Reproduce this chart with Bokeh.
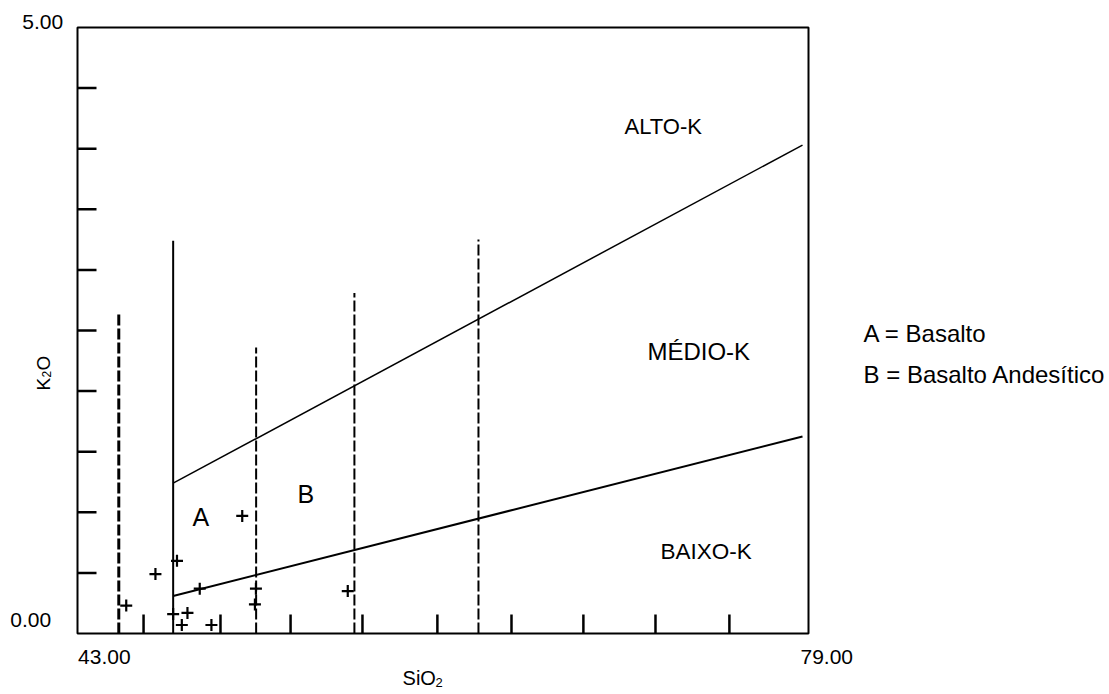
import math
from bokeh.plotting import figure
from bokeh.models import Range1d, Label
from bokeh.embed import file_html
from bokeh.resources import INLINE

# ---------------- data ----------------
sio2 = [45.42, 46.87, 47.75, 47.94, 48.18, 48.46, 49.07, 49.65, 51.18, 51.86, 51.81, 56.42]
k2o = [0.23, 0.49, 0.16, 0.60, 0.07, 0.17, 0.37, 0.07, 0.97, 0.37, 0.24, 0.35]

# boundary lines between the K series
low_med_x = [47.75, 79.0]
low_med_y = [0.31, 1.625]
med_high_x = [47.75, 79.0]
med_high_y = [1.24, 4.03]

# vertical SiO2 divisions
heavy_div_x = [45.05]
heavy_div_top = [2.64]
solid_div_x = [47.75]
solid_div_top = [3.24]
dash_div_x = [51.87, 56.75, 62.91]
dash_div_top = [2.36, 2.81, 3.25]

# axes: extent, ticks and tick labels
x_min, x_max = 43.0, 79.0
y_min, y_max = 0.0, 5.0
x_ticks = [46.28, 50.10, 53.58, 57.15, 60.87, 64.55, 68.12, 71.70, 75.37]
y_ticks = [0.5, 1.0, 1.5, 2.0, 2.5, 3.0, 3.5, 4.0, 4.5]
x_tick_labels = ["43.00", "79.00"]
y_tick_labels = ["0.00", "5.00"]

region_names = ["ALTO-K", "MÉDIO-K", "BAIXO-K"]
field_names = ["A", "B"]
legend_lines = ["A = Basalto", "B = Basalto Andesítico"]

FONT = "Liberation Sans"
W, H = 1109, 694

# scale: x 43 -> px 77, 79 -> px 802 ; y 0 -> px 633, 5 -> px 27
sx = (802 - 77) / (x_max - x_min)
sy = (633 - 27) / (y_max - y_min)
xr = Range1d(x_min - 77 / sx, x_min + (W - 77) / sx)
yr = Range1d(y_min - (H - 633) / sy, y_max + 27 / sy)

p = figure(width=W, height=H, output_backend="svg", toolbar_location=None,
           x_range=xr, y_range=yr, min_border=0,
           background_fill_color="white", border_fill_color="white")
p.grid.visible = False
p.axis.visible = False
p.outline_line_color = None

# plot box (right edge slightly beyond x_max, as in the original)
box_right = x_min + (808 - 77) / sx
p.quad(left=[x_min], right=[box_right], bottom=[y_min], top=[y_max],
       fill_color=None, line_color="black", line_width=2)

# inward ticks
tick_len_x = 19 / sx
tick_len_y = 19 / sy
p.segment(x0=[x_min] * len(y_ticks), y0=y_ticks, x1=[x_min + tick_len_x] * len(y_ticks), y1=y_ticks,
          line_color="black", line_width=2.5)
p.segment(x0=x_ticks, y0=[y_min] * len(x_ticks), x1=x_ticks, y1=[y_min + tick_len_y] * len(x_ticks),
          line_color="black", line_width=2.5)

# vertical divisions
p.segment(x0=heavy_div_x, y0=[y_min] * len(heavy_div_x), x1=heavy_div_x, y1=heavy_div_top,
          line_color="black", line_width=3, line_dash="11 3")
p.segment(x0=solid_div_x, y0=[y_min] * len(solid_div_x), x1=solid_div_x, y1=solid_div_top,
          line_color="black", line_width=2)
p.segment(x0=dash_div_x, y0=[y_min] * len(dash_div_x), x1=dash_div_x, y1=dash_div_top,
          line_color="black", line_width=2, line_dash="11 3")

# series boundaries
p.line(med_high_x, med_high_y, line_color="black", line_width=1.5)
p.line(low_med_x, low_med_y, line_color="black", line_width=2)

# samples
p.scatter(sio2, k2o, marker="cross", size=12, line_color="black", line_width=2.2)

SHIFT_PX = 9  # raise text so its baseline lands where intended


def lab(x, y, text, size, align="left", angle=0.0):
    if angle:
        x = x - SHIFT_PX / sx
    else:
        y = y + SHIFT_PX / sy
    p.add_layout(Label(x=x, y=y, text=text, text_font=FONT, text_font_size=size,
                       text_align=align, text_baseline="alphabetic", angle=angle,
                       text_color="black"))


# tick labels
lab(x_min + 0.03, -0.272, x_tick_labels[0], "21px")
lab(x_max - 0.10, -0.272, x_tick_labels[1], "21px")
lab(41.69, 0.039, y_tick_labels[0], "21px", align="right")
lab(42.29, 4.975, y_tick_labels[1], "21px", align="right")

# axis titles with subscripts
lab(59.14, -0.4455, "SiO", "20px")
lab(60.78, -0.478, "2", "13px")
ang = math.pi / 2
lab(41.759, 2.005, "K", "19px", angle=ang)
lab(41.908, 2.112, "2", "12px", angle=ang)
lab(41.759, 2.170, "O", "19px", angle=ang)

# region names
lab(70.16, 4.109, region_names[0], "22px")
lab(71.30, 2.252, region_names[1], "24px")
lab(71.95, 0.602, region_names[2], "22.5px")

# field letters
lab(48.71, 0.883, field_names[0], "25px")
lab(53.92, 1.073, field_names[1], "25px")

# legend text
lab(82.03, 2.401, legend_lines[0], "24px")
lab(82.03, 2.063, legend_lines[1], "24px")

open("out.html", "w").write(file_html(p, INLINE))
